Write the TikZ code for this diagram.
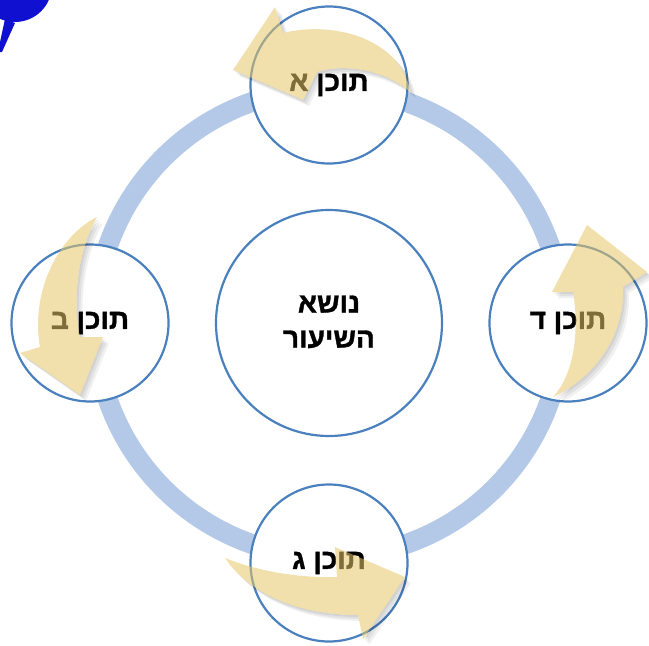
\documentclass[tikz,border=0pt]{standalone}
\usepackage{fontspec}
\newfontfamily\hebfont[Script=Hebrew,BoldFont={Liberation Sans Bold},BoldFeatures={FakeBold=1.2}]{Liberation Sans}
\TeXXeTstate=1
\definecolor{ringblue}{HTML}{B4C9E8}
\definecolor{edgeblue}{HTML}{4A80BD}
\definecolor{arrowgold}{HTML}{E6C766}
\definecolor{blobblue}{HTML}{1010D0}
\newcommand{\lowtext}[1]{\raisebox{-4pt}{#1}}
\tikzset{
  ring/.style={draw=ringblue, line width=20pt},
  smallc/.style={circle, draw=edgeblue, line width=2.2pt, fill=white, minimum size=157pt, inner sep=0pt,
     font=\hebfont\bfseries\fontsize{28}{30}\selectfont},
  bigc/.style={circle, draw=edgeblue, line width=2.2pt, fill=white, minimum size=226pt, inner sep=0pt,
     font=\hebfont\bfseries\fontsize{28}{35}\selectfont},
  cyclearrow/.style={fill=arrowgold, fill opacity=0.55},
  arrowshadow/.style={fill=black, fill opacity=0.06},
}
\begin{document}
\begin{tikzpicture}[x=1pt,y=-1pt]
\useasboundingbox (0,0) rectangle (649,646);
\begin{scope}
\clip (0,0) rectangle (649,646);
% corner blob
\fill[blobblue] (15,-15) circle (37);
\fill[blobblue] (5,19) -- (15,23) -- (2,52) -- (0,52) -- (0,42) -- cycle;
% ring
\draw[ring] (329,323) circle (234);
% circles
\node[smallc] (a) at (329,85) {\lowtext{\beginR תוכן א\endR}};
\node[smallc] (b) at (90,323) {\lowtext{\beginR תוכן ב\endR}};
\node[smallc] (c) at (329,563) {\lowtext{\beginR תוכן ג\endR}};
\node[smallc] (d) at (568,323) {\lowtext{\beginR תוכן ד\endR}};
\node[bigc] (m) at (329,323) {\lowtext{\begin{tabular}{@{}c@{}}\beginR נושא\endR\\\beginR השיעור\endR\end{tabular}}};
% arrow paths
\def\arrowA{(410,92) .. controls (402,40) and (335,20) .. (283,33) -- (275,7) -- (233,70) -- (303,100) -- (317,72) .. controls (345,63) and (385,70) .. (410,92) -- cycle}
\def\arrowB{(97,217) .. controls (60,235) and (30,290) .. (40,347) -- (20,353) -- (80,395) -- (103,337) -- (80,337) .. controls (72,300) and (78,250) .. (97,217) -- cycle}
\def\arrowD{(553,397) .. controls (578,370) and (578,320) .. (573,292) -- (552,292) -- (587,225) -- (647,272) -- (623,287) .. controls (625,330) and (600,375) .. (553,397) -- cycle}
\def\arrowC{(225,558) .. controls (260,572) and (300,578) .. (337,577) -- (335,547) -- (405,577) -- (363,639) -- (358,615) .. controls (300,615) and (250,595) .. (225,558) -- cycle}
% shadows, kept outside the arrows
\foreach \p in {\arrowA,\arrowB,\arrowC,\arrowD}{
  \begin{scope}[even odd rule]
    \clip (-20,-20) rectangle (670,670) \p;
    \foreach \s in {2,4,6}{
      \fill[arrowshadow, shift={(\s,\s)}] \p;
    }
  \end{scope}
}
% arrows
\fill[cyclearrow] \arrowA;
\fill[cyclearrow] \arrowB;
\fill[cyclearrow] \arrowC;
\fill[cyclearrow] \arrowD;
\end{scope}
\end{tikzpicture}
\end{document}
